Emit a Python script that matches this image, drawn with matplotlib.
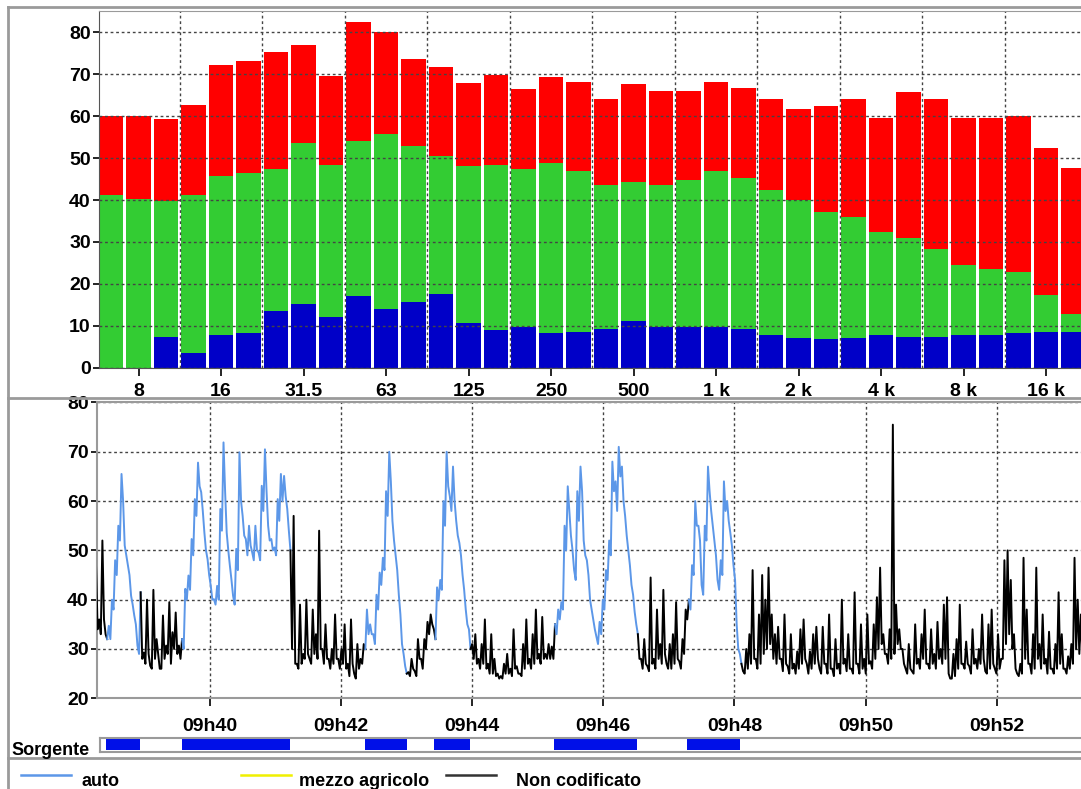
import numpy as np
import matplotlib
matplotlib.use("Agg")
import matplotlib.pyplot as plt
from matplotlib.lines import Line2D
from matplotlib import font_manager

plt.rcParams['font.family'] = ['Liberation Sans', 'DejaVu Sans']

# ---- spettro in bande di 1/3 d'ottava (dB) ----
bands = ['6.3', '8', '10', '12.5', '16', '20', '25', '31.5', '40', '50', '63', '80',
         '100', '125', '160', '200', '250', '315', '400', '500', '630', '800',
         '1 k', '1.25 k', '1.6 k', '2 k', '2.5 k', '3.15 k', '4 k', '5 k', '6.3 k',
         '8 k', '10 k', '12.5 k', '16 k', '20 k']
band_labels = ['8', '16', '31.5', '63', '125', '250', '500', '1 k', '2 k', '4 k', '8 k', '16 k']

lev_red = [60.0, 60.0, 59.3, 62.8, 72.3, 73.1, 75.4, 77.1, 69.5, 82.5, 80.1, 73.7,
           71.7, 67.9, 69.9, 66.4, 69.4, 68.3, 64.2, 67.6, 66.0, 66.0, 68.3, 66.8,
           64.2, 61.7, 62.4, 64.2, 59.5, 65.8, 64.2, 59.5, 59.5, 60.0, 52.4, 47.6]
lev_green = [41.1, 40.3, 39.8, 41.1, 45.7, 46.4, 47.5, 53.6, 48.4, 54.2, 55.8, 53.0,
             50.6, 48.1, 48.4, 47.5, 48.9, 47.0, 43.6, 44.2, 43.6, 44.7, 47.0, 45.2,
             42.3, 40.0, 37.1, 36.0, 32.3, 31.0, 28.3, 24.6, 23.5, 22.8, 17.4, 12.9]
lev_blue = [0, 0, 7.4, 3.4, 7.7, 8.2, 13.6, 15.2, 12.2, 17.0, 14.0, 15.6,
            17.6, 10.6, 8.9, 9.8, 8.2, 8.6, 9.3, 11.1, 9.8, 9.8, 9.8, 9.3,
            7.7, 7.0, 6.8, 7.0, 7.7, 7.4, 7.4, 7.7, 7.7, 8.2, 8.6, 8.6]

# ---- storia temporale (dB), un campione ogni ~2.9 s da 09h38m16s ----
t_start = 38.261     # minuti dopo le 09h00
t_step = 0.04862     # minuti
# valore letto al campione
leq = [47, 36, 52, 33, 34.7, 40, 48, 55, 65.5, 51, 47, 40.8, 36.8, 30.7, 41.5, 29.3,
       40, 26.6, 42, 32, 26, 36.8, 30.7, 39.5, 33.4, 37.4, 30.7, 32, 42.2, 44.9, 52.3,
       60.4, 67.8, 61.8, 53.6, 48.2, 42.8, 40.1, 42.8, 58.4, 71.9, 53.6, 46.9, 40.8,
       50.3, 69.9, 57, 52.3, 55, 49.6, 55, 49.6, 63.1, 70.5, 55, 52.3, 50.6, 60.4, 65.5,
       65.1, 58.4, 50, 57, 27, 39, 29, 40, 28, 38, 33, 54, 30, 35, 28, 30, 37, 28,
       30, 35, 27, 36, 25, 31, 28, 31, 38, 35, 33, 41, 45.5, 48.5, 62, 70, 56, 49, 41,
       31, 26.5, 25.3, 28, 25.5, 32, 28, 32, 35.5, 37, 34, 42.5, 44, 60, 70, 61, 67, 56,
       51.5, 45, 38, 34, 31, 33, 28, 31, 36, 27, 33, 28, 25, 24.5, 27, 29, 26, 34, 26.5,
       25, 31, 36, 28, 33, 38, 29, 36.5, 29, 31, 30.5, 35, 38, 39.5, 55, 63, 53, 46, 62,
       67, 52, 48, 40, 36, 32.5, 35.5, 40, 46, 52, 68, 64, 71, 67, 57, 50, 43, 37.5,
       33, 28, 32, 26.5, 44.5, 28, 38, 31, 42, 27, 31, 33, 39.5, 27.5, 32, 38, 40, 47,
       60, 55, 43, 55, 67, 58, 52, 44, 48, 64, 60, 53.6, 47, 35, 29, 25.5, 30, 33, 46,
       28, 37, 45, 40, 46.5, 37, 33, 34.5, 28, 37, 26.5, 33, 27, 29.5, 34, 36, 27, 29.5,
       33, 34.5, 26, 34.5, 27, 37, 26, 32, 27, 40, 28, 33, 26, 41.5, 27, 35, 28, 37,
       27.5, 35, 40.5, 46.5, 33, 29, 34, 75.5, 39, 34, 30, 26, 31, 25.5, 35, 28, 33, 38,
       27, 34, 29, 35.5, 30, 39, 40.5, 24, 29, 32, 39, 27, 31.5, 26.5, 34, 28, 30, 37,
       25.5, 35, 38, 26, 33, 28, 48, 50, 44, 33, 25, 27, 48.5, 38, 27, 33, 46.5, 31, 37,
       28, 33.5, 26, 31, 41.5, 33, 26, 28.5, 31, 48.5, 40, 37]
# minimo letto tra un campione e il successivo
leq_min = [34, 33, 36, 32, 32, 38, 45, 52, 60, 49, 45, 39, 35, 29,
           28, 27, 29, 26, 28, 29, 26, 28, 29, 27, 30, 29, 28, 30,
           40, 42, 49, 57, 63, 58, 50, 45, 40, 39, 40, 54, 62, 50, 44, 39, 46, 60, 53,
           49, 51, 48, 50, 48, 58, 62, 52, 50, 49, 56, 60, 61, 54,
           30, 27, 26, 27, 28, 29, 27, 29, 28, 30, 27, 28, 26, 27, 28, 26, 27, 26,
           24.5, 27, 24, 26, 27,
           30, 33, 33, 31, 38, 43, 46, 57, 64, 52, 46, 37, 29,
           25, 24.5, 26, 24.5, 28, 26, 30, 33,
           35, 32, 40, 42, 55, 63, 58, 60, 53, 49, 42, 35,
           30, 28, 27, 26, 27, 26, 25, 25, 24.5, 24, 24, 25, 25, 24.5, 26, 25, 24.5,
           26, 27, 26, 27, 28, 27, 28, 28, 28, 28,
           33, 36, 38, 50, 58, 50, 44, 56, 62, 49, 45, 38, 34, 31, 33, 38, 44, 49, 62,
           58, 65, 60, 53, 47, 41, 35,
           28, 26, 27, 25.5, 27, 26, 28, 27, 29, 26, 26, 27, 28, 26, 29,
           36, 38, 45, 55, 52, 41, 52, 62, 55, 49, 42, 45, 58, 56, 51, 44,
           30, 27, 25, 26, 27, 28, 26, 27, 29, 30, 31, 28, 27, 28, 25.5, 27, 25, 26,
           25, 26, 27, 28, 25, 26, 27, 28, 25,
           27, 25, 26, 24.5, 26, 25, 27, 25.5, 26, 25, 27, 25, 26, 25, 27, 26, 28,
           30, 31, 29, 27, 28, 29, 31, 30, 27, 25, 26, 25, 27, 26, 28,
           27, 26, 27, 26, 28, 27, 28, 25, 24, 24.5, 26, 27, 26, 27, 25, 27, 26, 27,
           28, 25, 26, 27, 25, 26, 28, 31, 33, 30, 26, 24.5, 25, 28, 27, 25, 26, 28,
           26, 27, 25, 26, 25, 26, 27, 26, 25, 26, 27, 30, 29, 28]

# intervalli con sorgente "auto" (hh:mm:ss)
auto_start = ['09:38:25', '09:39:34', '09:42:22', '09:43:25', '09:45:15', '09:47:17']
auto_end = ['09:38:56', '09:41:13', '09:43:00', '09:43:58', '09:46:31', '09:48:05']

time_ticks = [40, 42, 44, 46, 48, 50, 52]

assert len(leq) == len(leq_min), (len(leq), len(leq_min))


def to_min(s):
    h, m, sec = [float(v) for v in s.split(':')]
    return (h - 9) * 60 + m + sec / 60.0


# testo stretto per legenda e "Sorgente", se disponibile
font_names = {f.name for f in font_manager.fontManager.ttflist}
if 'Liberation Sans Narrow' in font_names:
    narrow = dict(family='Liberation Sans Narrow', fontsize=16, fontweight='bold')
else:
    narrow = dict(fontsize=13, fontweight='bold')

W, H = 1081, 789
fig = plt.figure(figsize=(W / 100, H / 100), dpi=100)
fig.patch.set_facecolor('white')
grid_kw = dict(color='#444444', lw=1.0, ls=(0, (2, 2)))
gray = '#9a9a9a'
blue_line = '#5c97e8'

# ---------------- spettro ----------------
ax1 = fig.add_axes([99 / W, 1 - 367.7 / H, 1 - 99 / W, (367.7 - 10.7) / H])
x = np.arange(len(bands))
ax1.bar(x, lev_red, width=0.88, color='#ff0000', zorder=1)
ax1.bar(x, lev_green, width=0.88, color='#33cc33', zorder=1)
ax1.bar(x, lev_blue, width=0.88, color='#0000c8', zorder=1)
ax1.set_xlim(-0.44, 35.27)
ax1.set_ylim(0, 85.2)
ax1.set_yticks(range(0, 81, 10))
ax1.set_xticks([bands.index(b) for b in band_labels])
ax1.set_xticklabels(band_labels)
ax1.set_xticks(np.arange(2.5, 35, 3), minor=True)
ax1.tick_params(which='minor', length=0)
ax1.tick_params(axis='x', which='major', length=6, width=1.2, direction='out', pad=5)
ax1.tick_params(axis='y', length=4, width=1.2, direction='out', pad=2)
ax1.grid(axis='y', which='major', **grid_kw)
ax1.grid(axis='x', which='minor', **grid_kw)
for lab in ax1.get_xticklabels() + ax1.get_yticklabels():
    lab.set_fontsize(14)
    lab.set_fontweight('bold')
ax1.spines['right'].set_visible(False)
ax1.spines['top'].set_color(gray)
ax1.spines['left'].set_color('#555555')
ax1.spines['bottom'].set_color('#555555')

# ---------------- storia temporale ----------------
ax2 = fig.add_axes([97 / W, 1 - 698.3 / H, 1 - 97 / W, (698.3 - 401.5) / H])
t = t_start + t_step * np.arange(len(leq))
# campione e minimo intermedio alternati
td = np.column_stack([t, t + t_step / 2]).ravel()
vd = np.column_stack([leq, leq_min]).ravel().astype(float)
is_auto = np.zeros(len(td), dtype=bool)
for a, b in zip(auto_start, auto_end):
    is_auto |= (td >= to_min(a)) & (td <= to_min(b))

# spezza la linea in tratti dello stesso colore
start = 0
for k in range(1, len(td) + 1):
    if k == len(td) or is_auto[k] != is_auto[start]:
        stop = min(k + 1, len(td))
        col = blue_line if is_auto[start] else 'black'
        ax2.plot(td[start:stop], vd[start:stop], color=col, lw=1.4, zorder=3)
        start = k

ax2.set_xlim(38.276, 53.286)
ax2.set_ylim(20, 80.2)
ax2.set_yticks(range(20, 81, 10))
ax2.set_xticks(time_ticks)
ax2.set_xticklabels(['09h%02d' % m for m in time_ticks])
ax2.tick_params(axis='x', length=6, width=1.2, direction='out', pad=8)
ax2.tick_params(axis='y', length=4, width=1.2, direction='out', pad=2)
ax2.grid(axis='both', **grid_kw)
for lab in ax2.get_xticklabels() + ax2.get_yticklabels():
    lab.set_fontsize(14)
    lab.set_fontweight('bold')
ax2.spines['right'].set_visible(False)
for s in ['top', 'left', 'bottom']:
    ax2.spines[s].set_color(gray)
    ax2.spines[s].set_linewidth(1.5)

# ---------------- barra sorgente ----------------
ax3 = fig.add_axes([100 / W, 1 - 751.5 / H, 1 - 100 / W, 13.5 / H])
ax3.set_xlim(38.276 + 3 / 65.56, 53.286)
ax3.set_ylim(0, 1)
for a, b in zip(auto_start, auto_end):
    ax3.axvspan(to_min(a), to_min(b), ymin=0.1, ymax=0.9, color='#0010e8', lw=0)
ax3.set_xticks([])
ax3.set_yticks([])
ax3.spines['right'].set_visible(False)
for s in ['top', 'left', 'bottom']:
    ax3.spines[s].set_color(gray)
    ax3.spines[s].set_linewidth(1.5)
fig.text(11 / W, 1 - 755 / H, 'Sorgente', va='baseline', ha='left', **narrow)

# ---------------- cornici ----------------
def hline(y, x0=8, x1=W, lw=2):
    fig.add_artist(Line2D([x0 / W, x1 / W], [1 - y / H, 1 - y / H], color=gray, lw=lw))

hline(7)
hline(398)
hline(758)
fig.add_artist(Line2D([8 / W, 8 / W], [1 - 7 / H, 0], color=gray, lw=2))

# ---------------- legenda ----------------
legend_items = [('auto', blue_line, 21, 81), ('mezzo agricolo', '#f0f000', 241, 299),
                ('Non codificato', '#333333', 446, 516)]
for name, col, x0, xt in legend_items:
    fig.add_artist(Line2D([x0 / W, (x0 + 50) / W], [1 - 774.5 / H, 1 - 774.5 / H],
                          color=col, lw=1.8))
    fig.text(xt / W, 1 - 786 / H, name, va='baseline', ha='left', **narrow)

fig.savefig('out.png', dpi=100)
